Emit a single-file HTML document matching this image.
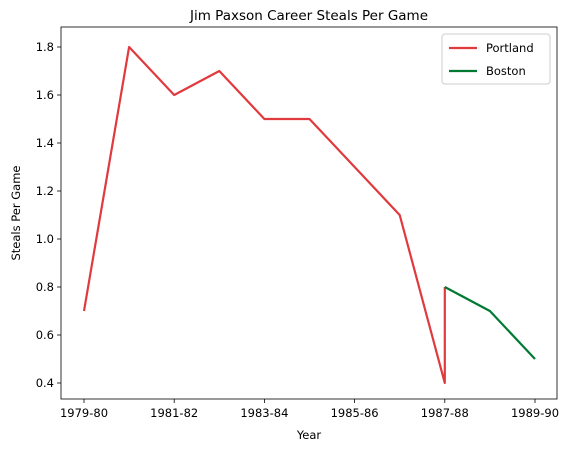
<!DOCTYPE html>
<html><head><meta charset="utf-8"><style>
body{margin:0;background:#fff;font-family:"Liberation Sans","DejaVu Sans",sans-serif;}
svg text{font-family:"DejaVu Sans","Liberation Sans",sans-serif;fill:#000;}
</style></head><body>
<svg id="chart" width="573" height="453" viewBox="0 0 573 453" xmlns="http://www.w3.org/2000/svg">
<rect x="0" y="0" width="573" height="453" fill="#fff"/>
<g id="plot"></g>
</svg>
<script>
const seasonLabels = ["1979-80","1980-81","1981-82","1982-83","1983-84","1984-85","1985-86","1986-87","1987-88","1988-89","1989-90"];
const xTickIdx = [0,2,4,6,8,10];
const yTicks = [0.4,0.6,0.8,1.0,1.2,1.4,1.6,1.8];
const portlandX = [0,1,2,3,4,5,6,7,8,8];
const portlandY = [0.7,1.8,1.6,1.7,1.5,1.5,1.3,1.1,0.4,0.8];
const bostonX = [8,9,10];
const bostonY = [0.8,0.7,0.5];

const L=61,R=557,T=27,B=399;
const xs = i => 84 + i*(535-84)/10;
const ys = v => 383 - (v-0.4)*(383-47)/1.4;
const NS="http://www.w3.org/2000/svg";
const g=document.getElementById('plot');
function mk(tag,attrs){const e=document.createElementNS(NS,tag);for(const k in attrs)e.setAttribute(k,attrs[k]);g.appendChild(e);return e;}

xTickIdx.forEach(i=>{
  const t=mk('line',{x1:xs(i),x2:xs(i),y1:B,y2:B+4,stroke:'#000','stroke-width':0.8});
  
  
  const l=mk('text',{x:xs(i),y:B+18,'text-anchor':'middle','font-size':11.5});
  l.textContent=seasonLabels[i];
  
  
});
yTicks.forEach(v=>{
  const t=mk('line',{x1:L-4,x2:L,y1:ys(v),y2:ys(v),stroke:'#000','stroke-width':0.8});
  
  
  const l=mk('text',{x:L-7,y:ys(v)+4,'text-anchor':'end','font-size':11.5});
  l.textContent=v.toFixed(1);
  
  
});
function line(xa,ya,color,name){
  const p=mk('polyline',{points:xa.map((x,i)=>xs(x)+','+ys(ya[i])).join(' '),fill:'none',stroke:color,'stroke-width':2.2,'stroke-linejoin':'round'});
  
  
}
line(portlandX,portlandY,'#e03a3e','portland-line');
line(bostonX,bostonY,'#007a33','boston-line');

const fr=mk('rect',{x:L,y:T,width:R-L,height:B-T,fill:'none',stroke:'#000','stroke-width':0.8});



const title=mk('text',{x:(L+R)/2,y:20,'text-anchor':'middle','font-size':13.5});
title.textContent='Jim Paxson Career Steals Per Game';


const xt=mk('text',{x:(L+R)/2,y:439,'text-anchor':'middle','font-size':11.5});
xt.textContent='Year';


const yt=mk('text',{x:0,y:0,'text-anchor':'middle','font-size':11.5,transform:'translate(20,'+((T+B)/2)+') rotate(-90)'});
yt.textContent='Steals Per Game';



const lg=mk('rect',{x:442,y:34,width:108,height:50,rx:3,fill:'#fff',stroke:'#ccc','stroke-width':1});


[['Portland','#e03a3e',48],['Boston','#007a33',71]].forEach(([n,c,y])=>{
  const s=mk('line',{x1:449,x2:477,y1:y,y2:y,stroke:c,'stroke-width':2.2});
  
  
  const t=mk('text',{x:486,y:y+4,'font-size':11.5});
  t.textContent=n;
  
  
});
</script>
</body></html>
